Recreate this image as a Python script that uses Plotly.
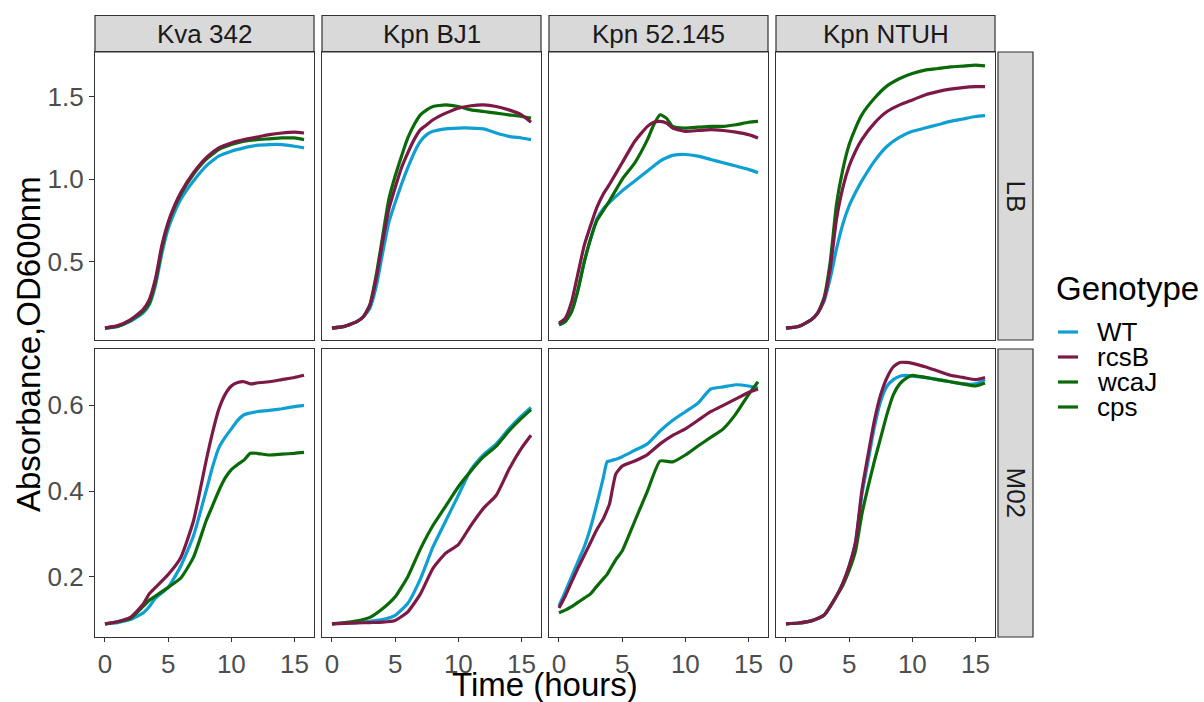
import plotly.graph_objects as go

# ---------------- data ----------------
strains = ["Kva 342", "Kpn BJ1", "Kpn 52.145", "Kpn NTUH"]
media = ["LB", "M02"]
genotypes = ["WT", "rcsB", "wcaJ", "cps"]
colors = {"WT": "#0f9fd3", "rcsB": "#7d1946", "wcaJ": "#0a6a0a", "cps": "#0a6a0a"}
# which capsule mutant is shown for each strain (both drawn dark green)
capsule_mutant = {"Kva 342": "wcaJ", "Kpn BJ1": "wcaJ", "Kpn 52.145": "cps", "Kpn NTUH": "cps"}

# --- LB ---
t_kva_lb = [0, 1, 2, 3, 3.5, 4, 4.5, 5, 5.5, 6, 7, 8, 9, 10, 11, 12, 13, 14, 15, 15.75]
kva_lb_wt = [0.10, 0.11, 0.14, 0.19, 0.24, 0.36, 0.55, 0.70, 0.80, 0.88, 0.99, 1.08, 1.14, 1.17, 1.19, 1.205, 1.21, 1.21, 1.20, 1.19]
kva_lb_rcsb = [0.10, 0.115, 0.15, 0.21, 0.27, 0.40, 0.60, 0.74, 0.84, 0.92, 1.04, 1.13, 1.19, 1.22, 1.24, 1.255, 1.27, 1.28, 1.285, 1.28]
kva_lb_caps = [0.10, 0.11, 0.145, 0.20, 0.25, 0.38, 0.58, 0.73, 0.83, 0.91, 1.03, 1.12, 1.18, 1.21, 1.23, 1.24, 1.245, 1.25, 1.25, 1.24]

t_bj1_lb = [0, 1, 2, 2.5, 3, 3.5, 4, 4.5, 5, 5.5, 6, 6.5, 7, 7.5, 8, 9, 10, 11, 12, 13, 14, 15, 15.75]
bj1_lb_wt = [0.10, 0.11, 0.14, 0.17, 0.22, 0.35, 0.55, 0.74, 0.86, 0.97, 1.07, 1.16, 1.23, 1.27, 1.29, 1.305, 1.31, 1.31, 1.305, 1.28, 1.26, 1.25, 1.24]
bj1_lb_rcsb = [0.10, 0.11, 0.14, 0.17, 0.24, 0.40, 0.62, 0.82, 0.95, 1.07, 1.16, 1.24, 1.30, 1.33, 1.36, 1.40, 1.43, 1.445, 1.45, 1.44, 1.42, 1.39, 1.345]
bj1_lb_caps = [0.10, 0.11, 0.14, 0.17, 0.24, 0.42, 0.65, 0.88, 1.02, 1.14, 1.25, 1.33, 1.39, 1.42, 1.44, 1.45, 1.44, 1.42, 1.41, 1.40, 1.39, 1.38, 1.37]

t_k52_lb = [0, 0.5, 1, 1.5, 2, 2.5, 3, 3.5, 4, 5, 6, 7, 7.5, 8, 8.5, 9, 10, 11, 12, 13, 14, 15, 15.75]
k52_lb_wt = [0.12, 0.14, 0.20, 0.33, 0.50, 0.64, 0.76, 0.82, 0.86, 0.93, 0.99, 1.05, 1.08, 1.11, 1.13, 1.145, 1.15, 1.14, 1.12, 1.10, 1.08, 1.06, 1.04]
k52_lb_rcsb = [0.13, 0.16, 0.26, 0.43, 0.60, 0.72, 0.83, 0.91, 0.97, 1.10, 1.23, 1.32, 1.345, 1.35, 1.34, 1.31, 1.29, 1.295, 1.30, 1.295, 1.285, 1.27, 1.25]
k52_lb_caps = [0.12, 0.14, 0.20, 0.33, 0.50, 0.64, 0.75, 0.81, 0.87, 1.00, 1.10, 1.24, 1.33, 1.39, 1.37, 1.32, 1.31, 1.315, 1.32, 1.32, 1.33, 1.345, 1.35]

t_ntuh_lb = [0, 1, 2, 2.5, 3, 3.5, 4, 4.5, 5, 5.5, 6, 7, 8, 9, 10, 11, 12, 13, 14, 15, 15.75]
ntuh_lb_wt = [0.10, 0.11, 0.15, 0.19, 0.26, 0.40, 0.58, 0.73, 0.84, 0.92, 0.99, 1.11, 1.20, 1.255, 1.29, 1.31, 1.33, 1.35, 1.365, 1.38, 1.385]
ntuh_lb_rcsb = [0.10, 0.11, 0.15, 0.19, 0.27, 0.46, 0.76, 0.95, 1.08, 1.17, 1.24, 1.34, 1.41, 1.45, 1.48, 1.51, 1.53, 1.545, 1.555, 1.56, 1.56]
ntuh_lb_caps = [0.10, 0.11, 0.15, 0.19, 0.28, 0.50, 0.85, 1.06, 1.21, 1.31, 1.39, 1.49, 1.565, 1.61, 1.64, 1.66, 1.67, 1.68, 1.685, 1.69, 1.686]

# --- M02 ---
t_kva_m02 = [0, 1, 2, 3, 3.5, 4, 5, 6, 7, 8, 8.5, 9, 9.5, 10, 10.5, 11, 11.5, 12, 13, 14, 15, 15.75]
kva_m02_wt = [0.09, 0.093, 0.10, 0.115, 0.13, 0.15, 0.175, 0.225, 0.295, 0.40, 0.455, 0.50, 0.525, 0.545, 0.565, 0.578, 0.582, 0.585, 0.588, 0.592, 0.597, 0.60]
kva_m02_rcsb = [0.09, 0.095, 0.105, 0.135, 0.16, 0.175, 0.205, 0.245, 0.33, 0.47, 0.535, 0.59, 0.625, 0.645, 0.653, 0.655, 0.65, 0.652, 0.655, 0.66, 0.665, 0.67]
kva_m02_caps = [0.09, 0.095, 0.102, 0.13, 0.145, 0.155, 0.175, 0.197, 0.245, 0.33, 0.365, 0.40, 0.43, 0.45, 0.462, 0.472, 0.488, 0.488, 0.484, 0.486, 0.488, 0.49]

t_bj1_m02 = [0, 1, 2, 3, 4, 5, 6, 7, 8, 9, 10, 11, 12, 13, 14, 15, 15.75]
bj1_m02_wt = [0.09, 0.092, 0.093, 0.096, 0.10, 0.11, 0.138, 0.195, 0.27, 0.33, 0.39, 0.45, 0.485, 0.51, 0.545, 0.575, 0.595]
bj1_m02_rcsb = [0.09, 0.091, 0.092, 0.093, 0.094, 0.098, 0.118, 0.16, 0.22, 0.255, 0.275, 0.32, 0.36, 0.39, 0.45, 0.50, 0.53]
bj1_m02_caps = [0.09, 0.093, 0.097, 0.105, 0.125, 0.153, 0.20, 0.265, 0.32, 0.365, 0.41, 0.447, 0.48, 0.505, 0.54, 0.57, 0.59]

t_k52_m02 = [0, 0.5, 1, 1.5, 2, 2.5, 3, 3.5, 3.8, 4, 4.5, 5, 6, 7, 8, 9, 10, 11, 12, 13, 14, 15, 15.75]
k52_m02_wt = [0.132, 0.165, 0.20, 0.235, 0.27, 0.315, 0.37, 0.43, 0.468, 0.47, 0.474, 0.48, 0.495, 0.51, 0.54, 0.565, 0.585, 0.605, 0.638, 0.643, 0.648, 0.645, 0.64]
k52_m02_rcsb = [0.127, 0.155, 0.188, 0.22, 0.25, 0.28, 0.31, 0.335, 0.355, 0.37, 0.44, 0.458, 0.47, 0.485, 0.51, 0.53, 0.545, 0.565, 0.585, 0.60, 0.615, 0.63, 0.638]
k52_m02_caps = [0.116, 0.122, 0.13, 0.14, 0.15, 0.16, 0.178, 0.195, 0.205, 0.215, 0.24, 0.26, 0.33, 0.40, 0.47, 0.468, 0.484, 0.505, 0.525, 0.545, 0.58, 0.625, 0.655]

t_ntuh_m02 = [0, 1, 2, 3, 4, 4.5, 5, 5.5, 6, 6.5, 7, 7.5, 8, 8.5, 9, 9.5, 10, 11, 12, 13, 14, 15, 15.75]
ntuh_m02_wt = [0.09, 0.092, 0.097, 0.11, 0.155, 0.185, 0.225, 0.28, 0.39, 0.47, 0.55, 0.61, 0.645, 0.66, 0.668, 0.67, 0.668, 0.665, 0.66, 0.655, 0.65, 0.65, 0.66]
ntuh_m02_rcsb = [0.09, 0.092, 0.097, 0.11, 0.155, 0.185, 0.225, 0.28, 0.40, 0.485, 0.565, 0.625, 0.665, 0.69, 0.70, 0.70, 0.698, 0.69, 0.68, 0.67, 0.665, 0.66, 0.665]
ntuh_m02_caps = [0.09, 0.092, 0.097, 0.11, 0.155, 0.18, 0.215, 0.26, 0.345, 0.41, 0.47, 0.525, 0.58, 0.625, 0.65, 0.663, 0.67, 0.665, 0.66, 0.655, 0.65, 0.645, 0.652]

panels = {
    ("LB", "Kva 342"): (t_kva_lb, kva_lb_wt, kva_lb_rcsb, kva_lb_caps),
    ("LB", "Kpn BJ1"): (t_bj1_lb, bj1_lb_wt, bj1_lb_rcsb, bj1_lb_caps),
    ("LB", "Kpn 52.145"): (t_k52_lb, k52_lb_wt, k52_lb_rcsb, k52_lb_caps),
    ("LB", "Kpn NTUH"): (t_ntuh_lb, ntuh_lb_wt, ntuh_lb_rcsb, ntuh_lb_caps),
    ("M02", "Kva 342"): (t_kva_m02, kva_m02_wt, kva_m02_rcsb, kva_m02_caps),
    ("M02", "Kpn BJ1"): (t_bj1_m02, bj1_m02_wt, bj1_m02_rcsb, bj1_m02_caps),
    ("M02", "Kpn 52.145"): (t_k52_m02, k52_m02_wt, k52_m02_rcsb, k52_m02_caps),
    ("M02", "Kpn NTUH"): (t_ntuh_m02, ntuh_m02_wt, ntuh_m02_rcsb, ntuh_m02_caps),
}

x_ticks = [0, 5, 10, 15]
y_ticks_lb = [0.5, 1.0, 1.5]
y_ticks_m02 = [0.2, 0.4, 0.6]

# ---------------- layout geometry (pixels) ----------------
W, H = 1204, 702
FONT = "Liberation Sans, Arial, Helvetica, sans-serif"
TICK_SIZE = 26
TITLE_SIZE = 33
panel_left = [95, 322, 549, 776]
panel_w = 219
row_top = [52, 349]
row_bot = [340, 637]
x_range = [-0.79, 16.54]
y_ranges = [[0.0278, 1.770], [0.0593, 0.7314]]

fig = go.Figure()
layout = dict(
    width=W, height=H, margin=dict(l=0, r=0, t=0, b=0),
    paper_bgcolor="white", plot_bgcolor="white", showlegend=False,
    font=dict(family=FONT, color="#1a1a1a"),
)
shapes, annotations = [], []

idx = 0
for r, med in enumerate(media):
    for c, strain in enumerate(strains):
        idx += 1
        xa = "xaxis" if idx == 1 else f"xaxis{idx}"
        ya = "yaxis" if idx == 1 else f"yaxis{idx}"
        xref = "x" if idx == 1 else f"x{idx}"
        yref = "y" if idx == 1 else f"y{idx}"
        t, wt, rc, cp = panels[(med, strain)]
        for g, vals in (("WT", wt), (capsule_mutant[strain], cp), ("rcsB", rc)):
            fig.add_trace(go.Scatter(
                x=t, y=vals, mode="lines", name=g, xaxis=xref, yaxis=yref,
                line=dict(color=colors[g], width=3.2, shape="spline", smoothing=0.5),
                hoverinfo="x+y+name",
            ))
        bottom = (r == 1)
        left = (c == 0)
        layout[xa] = dict(
            domain=[panel_left[c] / W, (panel_left[c] + panel_w) / W],
            range=x_range, anchor=yref, showgrid=False, zeroline=False,
            showline=True, mirror=True, linecolor="#333333", linewidth=1.2,
            tickvals=x_ticks, showticklabels=bottom,
            ticks="outside" if bottom else "", ticklen=4, tickcolor="#333333", tickwidth=1.1,
            tickfont=dict(size=TICK_SIZE, color="#4d4d4d", family=FONT),
        )
        layout[ya] = dict(
            domain=[1 - row_bot[r] / H, 1 - row_top[r] / H],
            range=y_ranges[r], anchor=xref, showgrid=False, zeroline=False,
            showline=True, mirror=True, linecolor="#333333", linewidth=1.2,
            tickvals=y_ticks_lb if r == 0 else y_ticks_m02,
            ticktext=[f"{v:.1f}" for v in (y_ticks_lb if r == 0 else y_ticks_m02)],
            showticklabels=left,
            ticks="outside" if left else "", ticklen=5, tickcolor="#333333", tickwidth=1.1,
            tickfont=dict(size=TICK_SIZE, color="#4d4d4d", family=FONT),
        )

# strips on top
for c, strain in enumerate(strains):
    x0, x1 = panel_left[c], panel_left[c] + panel_w
    shapes.append(dict(type="rect", xref="paper", yref="paper",
                       x0=x0 / W, x1=x1 / W, y0=1 - 52 / H, y1=1 - 15.5 / H,
                       fillcolor="#d9d9d9", line=dict(color="#333333", width=1.2), layer="below"))
    annotations.append(dict(xref="paper", yref="paper", x=(x0 + x1) / 2 / W, y=1 - 34 / H,
                            text=strain, showarrow=False, xanchor="center", yanchor="middle",
                            font=dict(size=TICK_SIZE, color="#1a1a1a", family=FONT)))
# strips on the right
for r, med in enumerate(media):
    shapes.append(dict(type="rect", xref="paper", yref="paper",
                       x0=998 / W, x1=1033 / W, y0=1 - row_bot[r] / H, y1=1 - row_top[r] / H,
                       fillcolor="#d9d9d9", line=dict(color="#333333", width=1.2), layer="below"))
    annotations.append(dict(xref="paper", yref="paper", x=1015.5 / W,
                            y=1 - (row_top[r] + row_bot[r]) / 2 / H,
                            text=med, showarrow=False, textangle=90, xanchor="center", yanchor="middle",
                            font=dict(size=TICK_SIZE, color="#1a1a1a", family=FONT)))

# axis titles
annotations.append(dict(xref="paper", yref="paper", x=545 / W, y=1 - 684 / H, text="Time (hours)",
                        showarrow=False, xanchor="center", yanchor="middle",
                        font=dict(size=TITLE_SIZE, color="black", family=FONT)))
annotations.append(dict(xref="paper", yref="paper", x=28 / W, y=1 - 344 / H, text="Absorbance,OD600nm",
                        showarrow=False, textangle=-90, xanchor="center", yanchor="middle",
                        font=dict(size=TITLE_SIZE, color="black", family=FONT)))

# legend
annotations.append(dict(xref="paper", yref="paper", x=1054 / W, y=1 - 288 / H, text="Genotype",
                        showarrow=False, xanchor="left", yanchor="middle",
                        font=dict(size=TITLE_SIZE, color="black", family=FONT)))
for i, g in enumerate(genotypes):
    yc = 332 + 25 * i
    shapes.append(dict(type="line", xref="paper", yref="paper", x0=1058 / W, x1=1078 / W,
                       y0=1 - yc / H, y1=1 - yc / H, line=dict(color=colors[g], width=3.2)))
    annotations.append(dict(xref="paper", yref="paper", x=1095 / W, y=1 - yc / H, text=g,
                            showarrow=False, xanchor="left", yanchor="middle",
                            font=dict(size=TICK_SIZE, color="black", family=FONT)))

layout["shapes"] = shapes
layout["annotations"] = annotations
fig.update_layout(**layout)
fig.write_html("out.html")
